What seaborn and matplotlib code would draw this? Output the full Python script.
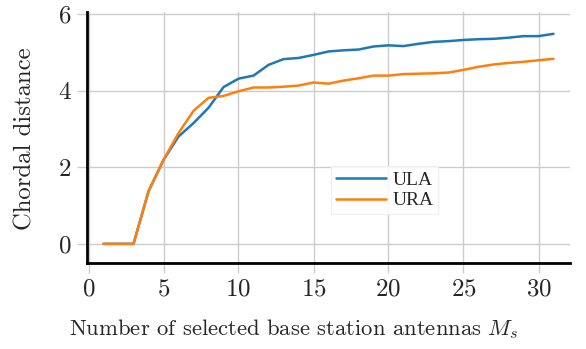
import matplotlib
matplotlib.use("Agg")
import matplotlib.pyplot as plt
import seaborn as sns
import pandas as pd

antennas = list(range(1, 32))
ula = [0, 0, 0, 1.37, 2.19, 2.80, 3.15, 3.55, 4.09, 4.31, 4.39, 4.67, 4.82, 4.85, 4.93,
       5.02, 5.05, 5.07, 5.15, 5.18, 5.16, 5.22, 5.27, 5.29, 5.32, 5.34, 5.35, 5.38, 5.42, 5.42, 5.48]
ura = [0, 0, 0, 1.37, 2.19, 2.89, 3.47, 3.81, 3.86, 3.98, 4.08, 4.08, 4.10, 4.13, 4.21,
       4.18, 4.26, 4.32, 4.39, 4.39, 4.43, 4.44, 4.45, 4.47, 4.54, 4.62, 4.68, 4.72, 4.75, 4.79, 4.83]
series_names = ["ULA", "URA"]
x_ticks = [0, 5, 10, 15, 20, 25, 30]
y_ticks = [0, 2, 4, 6]

df = pd.DataFrame({
    "M": antennas * 2,
    "d": ula + ura,
    "array": [series_names[0]] * len(antennas) + [series_names[1]] * len(antennas),
})

sns.set_theme(style="whitegrid")
plt.rcParams["font.family"] = ["cmr10"]
plt.rcParams["mathtext.fontset"] = "cm"
plt.rcParams["axes.formatter.use_mathtext"] = True

fig = plt.figure(figsize=(5.86, 3.49), dpi=100)
ax = fig.add_axes([87 / 586, 1 - 263 / 349, (570 - 87) / 586, (263 - 12) / 349])

sns.lineplot(data=df, x="M", y="d", hue="array",
             palette=["#1f77b4", "#ff7f0e"], linewidth=1.8, ax=ax)

ax.set_xlim(-0.1, 32.1)
ax.set_ylim(-0.5, 6.05)
ax.set_xticks(x_ticks)
ax.set_yticks(y_ticks)
ax.grid(True, color="#cccccc", linewidth=1.0)
for side in ["top", "right"]:
    ax.spines[side].set_visible(False)
for side in ["left", "bottom"]:
    ax.spines[side].set_color("black")
    ax.spines[side].set_linewidth(2.0)
ax.tick_params(axis="both", which="major", length=7, width=1.0, color="#cccccc",
               labelsize=18, pad=4, bottom=True, left=True)

ax.set_xlabel(r"Number of selected base station antennas $M_s$", fontsize=16.3)
ax.xaxis.set_label_coords(0.4286, -0.215)
ax.set_ylabel("Chordal distance", fontsize=17.8)
ax.yaxis.set_label_coords(-0.104, 0.495)

leg = ax.legend(loc="upper left", bbox_to_anchor=(0.505, 0.385), frameon=True,
                prop={"family": "Liberation Serif", "size": 14},
                handlelength=2.6, handletextpad=0.3, borderpad=0.25, labelspacing=0.15,
                borderaxespad=0)
leg.get_frame().set_edgecolor("#eeeeee")
leg.get_frame().set_facecolor("white")
leg.get_frame().set_alpha(0.85)
leg.get_frame().set_boxstyle("square", pad=0.0)

fig.savefig("out.png", dpi=100)
